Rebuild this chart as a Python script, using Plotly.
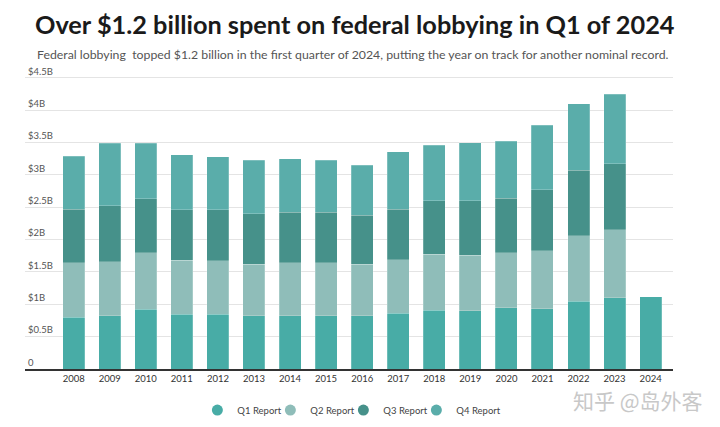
import plotly.graph_objects as go

# federal lobbying spend per quarterly report, $ billions
years = [str(y) for y in range(2008, 2025)]
q1 = [0.80, 0.82, 0.92, 0.85, 0.85, 0.82, 0.82, 0.82, 0.82, 0.86, 0.91, 0.90, 0.95, 0.93, 1.05, 1.10, 1.12]
q2 = [0.84, 0.84, 0.88, 0.83, 0.82, 0.80, 0.82, 0.82, 0.80, 0.83, 0.86, 0.86, 0.85, 0.90, 1.01, 1.05, None]
q3 = [0.83, 0.86, 0.83, 0.78, 0.79, 0.78, 0.78, 0.78, 0.76, 0.78, 0.83, 0.84, 0.84, 0.94, 1.01, 1.02, None]
q4 = [0.82, 0.97, 0.86, 0.85, 0.82, 0.83, 0.83, 0.81, 0.77, 0.89, 0.86, 0.90, 0.88, 1.00, 1.03, 1.08, None]

series = ["Q1 Report", "Q2 Report", "Q3 Report", "Q4 Report"]
colors = ["#48aca6", "#8fbdb9", "#46918a", "#5aadaa"]

tick_vals = [0, 0.5, 1, 1.5, 2, 2.5, 3, 3.5, 4, 4.5]
tick_text = ["0", "$0.5B", "$1B", "$1.5B", "$2B", "$2.5B", "$3B", "$3.5B", "$4B", "$4.5B"]

fig = go.Figure()

for name, vals, col in zip(series, [q1, q2, q3, q4], colors):
    fig.add_trace(go.Bar(
        x=years, y=vals, name=name,
        marker=dict(color=col, line=dict(color="rgba(255,255,255,0.35)", width=0.6)),
        showlegend=False
    ))

# round legend markers like the original
for name, col in zip(series, colors):
    fig.add_trace(go.Scatter(
        x=[None], y=[None], mode="markers", name=name,
        marker=dict(color=col, size=11, symbol="circle")
    ))
# blank trailing entry so the last label isn't clipped by entrywidth
fig.add_trace(go.Scatter(
    x=[None], y=[None], mode="markers", name=" ",
    marker=dict(color="rgba(0,0,0,0)", size=1), hoverinfo="skip"
))

# page body has an 8px margin, so everything is placed 8px up/left
fig.update_layout(
    barmode="stack",
    bargap=0.39,
    width=720, height=427,
    margin=dict(l=17, r=55, t=50, b=66, autoexpand=False),
    paper_bgcolor="white",
    plot_bgcolor="white",
    font=dict(family="Lato, sans-serif", color="#444"),
    legend=dict(
        orientation="h", x=0.266, xanchor="left", y=-0.132, yanchor="middle",
        traceorder="normal", entrywidth=28,
        font=dict(size=9.5, color="#444"), itemwidth=30
    ),
    title=dict(
        text="<b>Over $1.2 billion spent on federal lobbying in Q1 of 2024</b>",
        x=0.0375, xanchor="left", y=0.960, yanchor="middle",
        pad=dict(l=0, r=0, t=0, b=0),
        font=dict(size=25.3, color="#1a1a1a", family="Lato, sans-serif")
    ),
)

fig.update_xaxes(
    type="category",
    range=[-1.35, 16.62],
    showgrid=False,
    showline=True, linecolor="#333", linewidth=1.5,
    ticks="", tickfont=dict(size=9.5, color="#333"),
    fixedrange=True
)
fig.update_yaxes(
    range=[0, 4.807],
    tickvals=tick_vals, ticktext=tick_text,
    ticklabelposition="inside top",
    tickfont=dict(size=9.5, color="#555"),
    showgrid=True, gridcolor="#e4e4e4", gridwidth=1,
    zeroline=False, showline=False,
    fixedrange=True
)

fig.add_annotation(
    text="Federal lobbying  topped $1.2 billion in the first quarter of 2024, putting the year on track for another nominal record.",
    xref="paper", yref="paper", x=0, xanchor="left", y=1.011, yanchor="middle",
    xshift=10, showarrow=False,
    font=dict(size=12.3, color="#555", family="Lato, sans-serif")
)

fig.add_annotation(
    text="知乎 @岛外客",
    xref="paper", yref="paper", x=1.049, xanchor="right", y=-0.1, yanchor="middle",
    showarrow=False,
    font=dict(size=21, color="#c8c8c8", family="Noto Sans CJK SC")
)

fig.write_html("out.html")
